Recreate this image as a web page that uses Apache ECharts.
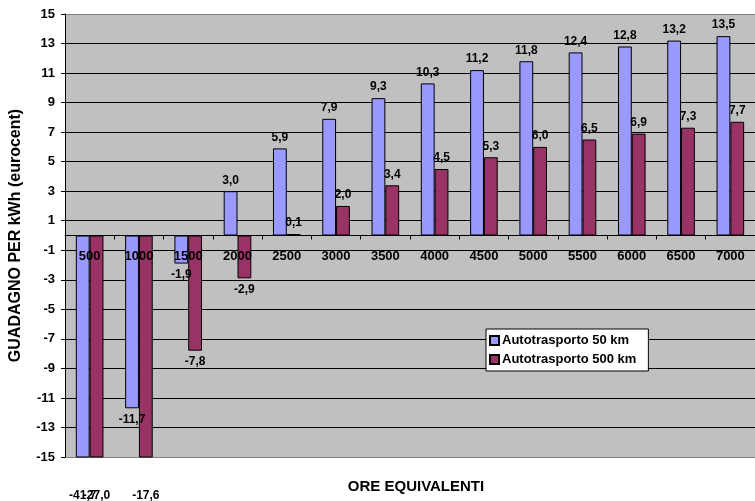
<!DOCTYPE html>
<html>
<head>
<meta charset="utf-8">
<script src="https://cdn.jsdelivr.net/npm/echarts@6/dist/echarts.min.js"></script>
<style>html,body{margin:0;padding:0;background:#fff;}#c{width:755px;height:501px;}</style>
</head>
<body>
<div id="c"></div>
<script>
var categories = ['500','1000','1500','2000','2500','3000','3500','4000','4500','5000','5500','6000','6500','7000'];
var series50 = [-41.7, -11.7, -1.9, 3.0, 5.9, 7.9, 9.3, 10.3, 11.2, 11.8, 12.4, 12.8, 13.2, 13.5];
var series500 = [-27.0, -17.6, -7.8, -2.9, 0.1, 2.0, 3.4, 4.5, 5.3, 6.0, 6.5, 6.9, 7.3, 7.7];
var seriesNames = ['Autotrasporto 50 km', 'Autotrasporto 500 km'];
var yMin = -15, yMax = 15, yStep = 2;

var FONT = '"Liberation Sans", Arial, sans-serif';
function fmt(v){ return v.toFixed(1).replace('.', ','); }
function buildData(arr){
  return arr.map(function(v){
    var item = { value: v, label: { position: v < 0 ? 'bottom' : 'top' } };
    if (v < yMin) item.label.distance = 32;
    return item;
  });
}
function mkSeries(name, arr, color){
  return {
    name: name, type: 'bar', data: buildData(arr),
    barWidth: '28%', barGap: '0%',
    itemStyle: { color: color, borderColor: '#000', borderWidth: 1 },
    label: {
      show: true,
      fontFamily: FONT, fontSize: 12, fontWeight: 'bold', color: '#000',
      distance: 5,
      formatter: function(p){ return fmt(p.value); }
    }
  };
}

var chart = echarts.init(document.getElementById('c'));
var option = {
  animation: false,
  backgroundColor: '#fff',
  textStyle: { fontFamily: FONT },
  grid: { left: 63, top: 14, right: -5, height: 443, show: true, backgroundColor: '#C0C0C0', borderWidth: 0, containLabel: false },
  legend: {
    orient: 'vertical', left: 486, top: 329,
    backgroundColor: '#fff', borderColor: '#000', borderWidth: 1,
    padding: [5, 12, 5, 3], itemGap: 6, itemWidth: 9, itemHeight: 9,
    icon: 'rect',
    textStyle: { fontFamily: FONT, fontSize: 13, fontWeight: 'bold', color: '#000', padding: [0,0,0,-2] },
    data: seriesNames
  },
  title: {
    text: 'ORE EQUIVALENTI', left: 411, top: 474, textAlign: 'center',
    textStyle: { fontFamily: FONT, fontSize: 15, fontWeight: 'bold', color: '#000' }
  },
  xAxis: {
    type: 'category', data: categories, z: 5, offset: 0,
    axisLine: { onZero: false, lineStyle: { color: '#000', width: 1 } },
    axisTick: { show: true, length: 4, inside: false, lineStyle: { color: '#000' } },
    axisLabel: { interval: 0, margin: 14, fontFamily: FONT, fontSize: 13, fontWeight: 'bold', color: '#000' },
    splitLine: { show: false }
  },
  yAxis: {
    type: 'value', min: yMin, max: yMax, interval: yStep,
    name: 'GUADAGNO PER kWh (eurocent)', nameLocation: 'middle', nameGap: 41,
    nameTextStyle: { fontFamily: FONT, fontSize: 16, fontWeight: 'bold', color: '#000' },
    axisLine: { show: true, lineStyle: { color: '#000' } },
    axisTick: { show: true, length: 4, lineStyle: { color: '#000' } },
    axisLabel: { margin: 10, fontFamily: FONT, fontSize: 13, fontWeight: 'bold', color: '#000' },
    splitLine: { show: true, lineStyle: { color: ['#808080', '#000', '#000', '#000', '#000', '#000', '#000', '#000', '#000', '#000', '#000', '#000', '#000', '#000', '#000', '#808080'], width: 1 } }
  },
  series: [mkSeries(seriesNames[0], series50, '#9999FF'), mkSeries(seriesNames[1], series500, '#993366')]
};
chart.setOption(option);
var zeroPx = chart.convertToPixel({ yAxisIndex: 0 }, 0);
var bottomPx = chart.convertToPixel({ yAxisIndex: 0 }, yMin);
chart.setOption({ xAxis: { offset: zeroPx - bottomPx } });
</script>
</body>
</html>
